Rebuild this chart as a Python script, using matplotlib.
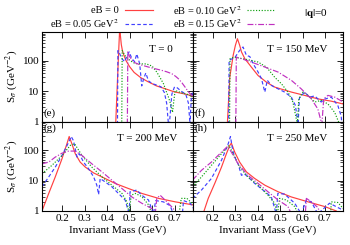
import numpy as np
import matplotlib
matplotlib.use('Agg')
import matplotlib.pyplot as plt
from matplotlib.lines import Line2D
from matplotlib.ticker import FixedLocator, LogLocator, NullFormatter

plt.rcParams['font.family'] = ['Liberation Serif', 'DejaVu Serif']
plt.rcParams['mathtext.fontset'] = 'stix'

# --- T = 0 (panel e) ---
m_t0_a = [0.438, 0.444, 0.449, 0.453, 0.456, 0.459, 0.463, 0.468, 0.475, 0.485, 0.50, 0.52, 0.55, 0.58, 0.62, 0.66, 0.70, 0.74, 0.78]
s_t0_a = [0.8, 10, 80, 400, 1200, 700, 350, 220, 150, 100, 65, 42, 28, 21, 15, 12, 9.5, 8.3, 7.0]
m_t0_b = [0.446, 0.448, 0.455, 0.465, 0.478, 0.488, 0.498, 0.51, 0.522, 0.532, 0.545, 0.554, 0.562, 0.572, 0.584, 0.60, 0.62, 0.64, 0.655, 0.665, 0.673, 0.677, 0.688, 0.70, 0.712, 0.73, 0.75, 0.762, 0.769, 0.774, 0.78]
s_t0_b = [0.8, 220, 180, 120, 95, 150, 200, 120, 95, 170, 80, 15, 25, 40, 22, 18, 16, 14, 9, 4, 0.8, 0.8, 8, 14, 13, 10, 8, 4, 0.8, 5, 9]
m_t0_c = [0.465, 0.467, 0.48, 0.492, 0.51, 0.525, 0.55, 0.575, 0.60, 0.621, 0.637, 0.651, 0.663, 0.673, 0.684, 0.691, 0.697, 0.703, 0.72, 0.74, 0.76, 0.78]
s_t0_c = [0.8, 220, 150, 118, 95, 82, 80, 80, 68, 43, 27, 17.6, 10, 6.4, 3.5, 2.0, 5, 10.6, 9.5, 8.5, 7.8, 6.5]
m_t0_d = [0.49, 0.492, 0.50, 0.517, 0.54, 0.584, 0.62, 0.643, 0.665, 0.688, 0.705, 0.717, 0.733, 0.747, 0.76, 0.769, 0.78]
s_t0_d = [0.8, 200, 140, 92, 78, 63, 54, 49, 44, 38, 31, 26, 19, 13.7, 10, 8.3, 7]

# --- T = 150 MeV (panel f) ---
m_t150_a = [0.265, 0.276, 0.291, 0.301, 0.31, 0.32, 0.328, 0.343, 0.372, 0.402, 0.439, 0.476, 0.55, 0.609, 0.668, 0.728, 0.781]
s_t150_a = [0.8, 29, 153, 330, 545, 330, 200, 119, 63, 33, 20, 13.7, 9.4, 7.3, 5.6, 4.7, 3.8]
m_t150_b = [0.271, 0.273, 0.30, 0.32, 0.335, 0.35, 0.365, 0.38, 0.402, 0.417, 0.432, 0.443, 0.461, 0.491, 0.52, 0.55, 0.568, 0.58, 0.586, 0.609, 0.631, 0.654, 0.683, 0.698, 0.728, 0.757, 0.772, 0.775]
s_t150_b = [0.8, 105, 134, 225, 290, 153, 140, 81, 43, 26, 9.4, 23, 15.6, 12, 9.4, 6.4, 3.4, 0.8, 6, 9.4, 6.4, 7, 4.4, 5.5, 6.4, 3.4, 1.5, 0.8]
m_t150_c = [0.275, 0.277, 0.295, 0.357, 0.402, 0.439, 0.476, 0.506, 0.535, 0.557, 0.577, 0.583, 0.602, 0.624, 0.654, 0.683, 0.713, 0.743, 0.765]
s_t150_c = [0.8, 119, 134, 110, 92, 63, 29, 17.6, 9.4, 4.4, 0.8, 5.6, 9.4, 7.3, 4.4, 5.0, 3.8, 2.0, 0.8]
m_t150_d = [0.303, 0.305, 0.328, 0.372, 0.432, 0.491, 0.55, 0.594, 0.639, 0.668, 0.686, 0.694, 0.713, 0.743, 0.781]
s_t150_d = [0.8, 134, 119, 92, 63, 43, 23, 12, 5.6, 2.6, 0.8, 5.6, 7.3, 6.4, 4.4]

# --- T = 200 MeV (panel g) ---
m_t200_a = [0.11, 0.14, 0.169, 0.199, 0.221, 0.231, 0.243, 0.258, 0.28, 0.303, 0.34, 0.377, 0.436, 0.495, 0.554, 0.629, 0.703, 0.786]
s_t200_a = [1.0, 3.8, 13.3, 53, 166, 288, 166, 78, 41, 28, 18, 13.3, 8.1, 5.5, 3.8, 2.6, 2.0, 1.57]
m_t200_b = [0.11, 0.14, 0.169, 0.199, 0.229, 0.24, 0.25, 0.266, 0.276, 0.295, 0.317, 0.34, 0.354, 0.362, 0.369, 0.391, 0.421, 0.45, 0.48, 0.498, 0.502, 0.532, 0.554, 0.584, 0.606, 0.616, 0.65, 0.68, 0.695, 0.735, 0.74, 0.77, 0.785]
s_t200_b = [6.3, 13.3, 28, 68, 188, 288, 210, 60, 78, 41, 25, 13.3, 7.1, 3.5, 11.8, 9.1, 6.3, 3.8, 2.3, 0.8, 4.3, 4.9, 3.3, 2.3, 0.8, 2.2, 2.0, 1.5, 0.8, 0.8, 2.2, 1.8, 1.2]
m_t200_c = [0.11, 0.154, 0.199, 0.236, 0.255, 0.288, 0.332, 0.377, 0.421, 0.466, 0.488, 0.498, 0.507, 0.525, 0.554, 0.584, 0.599, 0.72, 0.73, 0.755, 0.785]
s_t200_c = [17, 32, 68, 146, 166, 68, 28, 13.3, 7.1, 3.8, 2.0, 0.8, 3.3, 3.8, 3.0, 1.6, 0.8, 0.8, 2.6, 2.6, 1.6]
m_t200_d = [0.11, 0.14, 0.169, 0.199, 0.229, 0.258, 0.288, 0.332, 0.377, 0.421, 0.466, 0.51, 0.554, 0.599, 0.614, 0.621, 0.636, 0.666, 0.695, 0.70]
s_t200_d = [36, 41, 60, 81, 95, 95, 68, 36, 19.5, 10.4, 5.5, 2.9, 1.8, 1.2, 0.8, 2.6, 3.3, 2.0, 1.2, 0.8]

# --- T = 250 MeV (panel h) ---
m_t250_a = [0.157, 0.18, 0.209, 0.239, 0.261, 0.276, 0.283, 0.298, 0.32, 0.35, 0.387, 0.432, 0.491, 0.55, 0.624, 0.698, 0.75]
s_t250_a = [0.8, 2.6, 8.1, 28, 78, 146, 174, 88, 41, 19.5, 11.8, 7.1, 4.3, 2.9, 2.0, 1.4, 1.0]
m_t250_b = [0.11, 0.15, 0.194, 0.239, 0.269, 0.279, 0.289, 0.298, 0.313, 0.328, 0.34, 0.357, 0.387, 0.424, 0.461, 0.483, 0.49, 0.52, 0.565, 0.594, 0.617, 0.639, 0.668, 0.72, 0.757, 0.781]
s_t250_b = [2.6, 4.9, 11.8, 47, 166, 288, 100, 60, 36, 15, 17, 13.3, 8.1, 4.9, 2.9, 0.8, 3.8, 3.6, 1.8, 0.8, 2.3, 2.0, 0.8, 1.8, 1.3, 1.05]
m_t250_c = [0.11, 0.15, 0.194, 0.239, 0.272, 0.291, 0.32, 0.357, 0.402, 0.446, 0.476, 0.488, 0.498, 0.528, 0.565, 0.58, 0.725, 0.728, 0.757, 0.781]
s_t250_c = [6.3, 13.3, 32, 78, 146, 78, 28, 13.3, 7.1, 3.3, 1.8, 0.8, 2.6, 2.3, 1.4, 0.8, 0.8, 2.0, 1.9, 1.2]
m_t250_d = [0.11, 0.15, 0.194, 0.239, 0.266, 0.283, 0.313, 0.357, 0.402, 0.446, 0.491, 0.535, 0.55, 0.612, 0.617, 0.639, 0.668, 0.68]
s_t250_d = [10.4, 22, 41, 88, 135, 88, 36, 15, 8.1, 4.3, 2.3, 1.4, 0.8, 0.8, 2.6, 2.0, 1.3, 0.8]

eb_labels = ['eB = 0', 'eB = 0.05 GeV$^2$', 'eB = 0.10 GeV$^2$', 'eB = 0.15 GeV$^2$']
colors = ['#ff4040', '#4040ff', '#10a010', '#c030c0']
styles = ['-', (0, (3, 2)), (0, (1, 1.4)), (0, (5, 1.5, 1, 1.5))]

panels = [
    ('T = 0', '(e)', 0.867, [(m_t0_a, s_t0_a), (m_t0_b, s_t0_b), (m_t0_c, s_t0_c), (m_t0_d, s_t0_d)]),
    ('T = 150 MeV', '(f)', 0.894, [(m_t150_a, s_t150_a), (m_t150_b, s_t150_b), (m_t150_c, s_t150_c), (m_t150_d, s_t150_d)]),
    ('T = 200 MeV', '(g)', 0.9, [(m_t200_a, s_t200_a), (m_t200_b, s_t200_b), (m_t200_c, s_t200_c), (m_t200_d, s_t200_d)]),
    ('T = 250 MeV', '(h)', 0.894, [(m_t250_a, s_t250_a), (m_t250_b, s_t250_b), (m_t250_c, s_t250_c), (m_t250_d, s_t250_d)]),
]

fig, axs = plt.subplots(2, 2, figsize=(3.5, 2.45), dpi=100, sharex=True, sharey=True)
fig.subplots_adjust(left=0.12, right=0.98, top=0.869, bottom=0.139, wspace=0, hspace=0)

for k, ax in enumerate(axs.flat):
    title, tag, tx, curves = panels[k]
    for j, (m, s) in enumerate(curves):
        ax.plot(m, s, color=colors[j], ls=styles[j], lw=0.85)
    ax.set_yscale('log')
    ax.set_xlim(0.11, 0.78)
    ax.set_ylim(1, 900)
    ax.xaxis.set_major_locator(FixedLocator([0.2, 0.3, 0.4, 0.5, 0.6, 0.7]))
    ax.yaxis.set_major_locator(FixedLocator([1, 10, 100]))
    ax.yaxis.set_minor_locator(LogLocator(base=10, subs=np.arange(2, 10)))
    ax.yaxis.set_minor_formatter(NullFormatter())
    ax.set_yticklabels(['1', '10', '100'])
    ax.set_xticklabels(['0.2', '0.3', '0.4', '0.5', '0.6', '0.7'])
    ax.tick_params(which='both', direction='in', top=True, right=True, labelsize=8, pad=2)
    ax.tick_params(which='major', length=4, width=0.6)
    ax.tick_params(which='minor', length=2, width=0.5)
    for sp in ax.spines.values():
        sp.set_linewidth(0.8)
    ax.text(tx, 0.81, title, transform=ax.transAxes, ha='right', va='center', fontsize=8)
    ty = 0.09 if k < 2 else 0.92
    ax.text(0.012, ty, tag, transform=ax.transAxes, ha='left', va='center', fontsize=8)

for ax in axs[:, 0]:
    ax.set_ylabel(r'S$_\sigma$ (GeV$^{-2}$)', fontsize=8, labelpad=2)
for ax in axs[1, :]:
    ax.set_xlabel('Invariant Mass (GeV)', fontsize=8, labelpad=2)

# legend drawn gnuplot style: text right-aligned, sample to the right
leg_text_x = [0.34, 0.34, 0.691, 0.691]
leg_line_x = [(0.357, 0.437), (0.357, 0.437), (0.706, 0.786), (0.706, 0.786)]
leg_y = [0.958, 0.902, 0.958, 0.902]
for j in range(4):
    fig.text(leg_text_x[j], leg_y[j], eb_labels[j], ha='right', va='center', fontsize=7.5)
    fig.add_artist(Line2D(leg_line_x[j], [leg_y[j], leg_y[j]], transform=fig.transFigure,
                          color=colors[j], ls=styles[j], lw=0.85))
fig.text(0.903, 0.945, r'$|\mathbf{q}|$=0', ha='center', va='center', fontsize=8)

fig.savefig('out.png', dpi=100)
